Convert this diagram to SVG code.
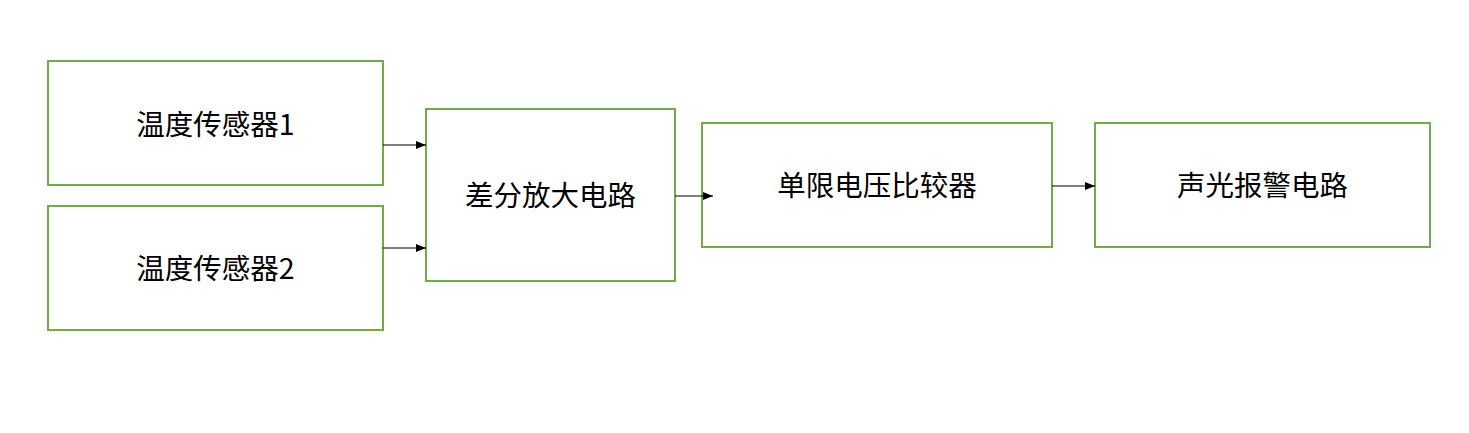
<svg xmlns="http://www.w3.org/2000/svg" width="1469" height="433" viewBox="0 0 1469 433">
<style>
.box{fill:#ffffff;stroke:#70ad47;stroke-width:2}
.lbl{font-family:"Noto Sans CJK SC","Liberation Sans",sans-serif;font-size:28.5px;fill:#000;text-anchor:middle;dominant-baseline:central}
.conn{stroke:#000;stroke-width:1;fill:none;marker-end:url(#arr)}
</style>
<defs>
<marker id="arr" viewBox="0 0 10 10" refX="10" refY="5" markerWidth="10" markerHeight="10" markerUnits="userSpaceOnUse" orient="auto">
<path d="M0,1 L10,5 L0,9 Z" fill="#000"/>
</marker>
</defs>
<rect width="1469" height="433" fill="#fff"/>
<g id="sensor1"><rect class="box" x="48" y="61" width="335" height="124"/><text class="lbl" x="215.5" y="122">温度传感器1</text></g>
<g id="sensor2"><rect class="box" x="48" y="206" width="335" height="124"/><text class="lbl" x="215.5" y="266">温度传感器2</text></g>
<g id="diffamp"><rect class="box" x="426" y="109" width="249" height="172"/><text class="lbl" x="550.5" y="193">差分放大电路</text></g>
<g id="comparator"><rect class="box" x="702" y="123" width="350" height="124"/><text class="lbl" x="877" y="183">单限电压比较器</text></g>
<g id="alarm"><rect class="box" x="1095" y="123" width="335" height="124"/><text class="lbl" x="1262.5" y="183">声光报警电路</text></g>
<g id="connectors">
<line class="conn" x1="383" y1="145" x2="426" y2="145"/>
<line class="conn" x1="383" y1="248" x2="426" y2="248"/>
<line class="conn" x1="675" y1="196" x2="713" y2="196"/>
<line class="conn" x1="1052" y1="186" x2="1095" y2="186"/>
</g>
</svg>
